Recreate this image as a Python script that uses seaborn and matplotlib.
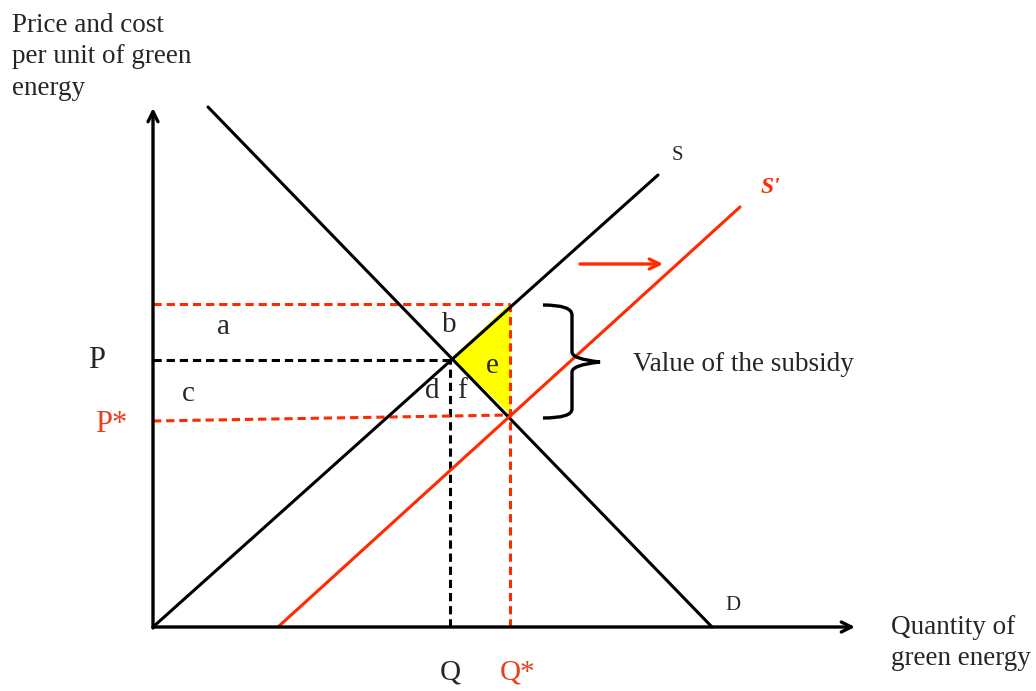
import matplotlib.pyplot as plt
import seaborn as sns
import numpy as np
from matplotlib.path import Path
from matplotlib.patches import PathPatch

sns.set_theme(style="white")
plt.rcParams['font.family'] = ['Liberation Serif', 'DejaVu Serif']

# quantity / price values (origin at bottom-left)
supply_q = [0, 505]
supply_p = [0, 452]
demand_q = [55, 559]
demand_p = [520, 0]
supply2_q = [125, 587]
supply2_p = [0, 420]

q_eq = 297          # Q
q_star = 357        # Q*
p_eq = 267          # P
p_star = [206, 212] # P* (line is drawn slightly tilted)
p_top = 323         # price received by producers
subsidy_tri_q = [300, 357, 357]
subsidy_tri_p = [269, 323, 214]

RED = '#FF2A00'
RED_TXT = '#E8401C'

fig = plt.figure(figsize=(10.36, 6.91), dpi=100)
ax = fig.add_axes([0, 0, 1, 1])
ax.set_xlim(-153, 883)
ax.set_ylim(-64, 627)
ax.axis('off')

# subsidy triangle
ax.fill(subsidy_tri_q, subsidy_tri_p, color='#FFFF00', zorder=1)

# dashed guides
dash = dict(lw=2.2, linestyle=(0, (2.7, 1.6)), zorder=2)
ax.plot([0, q_eq], [p_eq, p_eq], color='black', **dash)
ax.plot([q_eq, q_eq], [0, p_eq], color='black', **dash)
ax.plot([0, q_star], [p_top, p_top], color=RED, **dash)
ax.plot([0, q_star], p_star, color=RED, **dash)
ax.plot([q_star, q_star], [0, p_top], color=RED, **dash)

# supply and demand curves
sns.lineplot(x=supply_q, y=supply_p, color='black', lw=2.2, ax=ax, zorder=3)
sns.lineplot(x=demand_q, y=demand_p, color='black', lw=2.2, ax=ax, zorder=3)
sns.lineplot(x=supply2_q, y=supply2_p, color=RED, lw=2.2, ax=ax, zorder=3)

# axes with arrows
arrow = dict(arrowstyle='->', lw=2.4, color='black', mutation_scale=18,
             shrinkA=0, shrinkB=0)
ax.annotate('', xy=(702, 0), xytext=(0, 0), arrowprops=arrow, zorder=4)
ax.annotate('', xy=(0, 519), xytext=(0, -1), arrowprops=arrow, zorder=4)

# shift arrow
ax.annotate('', xy=(510, 363), xytext=(427, 363),
            arrowprops=dict(arrowstyle='->', lw=2.4, color=RED,
                            mutation_scale=18, shrinkA=0, shrinkB=0))

# curly bracket for the subsidy
verts = [(390, 322), (419, 322), (419, 312), (419, 302),
         (419, 275), (419, 268), (447, 265), (419, 262), (419, 255),
         (419, 228), (419, 218), (419, 209), (390, 209)]
codes = [Path.MOVETO, Path.CURVE3, Path.CURVE3, Path.LINETO,
         Path.LINETO, Path.CURVE3, Path.CURVE3, Path.CURVE3, Path.CURVE3,
         Path.LINETO, Path.LINETO, Path.CURVE3, Path.CURVE3]
ax.add_patch(PathPatch(Path(verts, codes), fill=False, lw=2.4,
                       edgecolor='black', zorder=4))

fs = 19.5
ax.text(-141, 614, 'Price and cost\nper unit of green\nenergy', fontsize=fs,
        va='top', ha='left', linespacing=1.33)
ax.text(738, -16, 'Quantity of\ngreen energy', fontsize=fs, va='center',
        ha='left', linespacing=1.33)
ax.text(480, 263, 'Value of the subsidy', fontsize=fs, va='center', ha='left')

ax.text(71, 300, 'a', fontsize=21, ha='center', va='center')
ax.text(296, 302, 'b', fontsize=21, ha='center', va='center')
ax.text(35, 233, 'c', fontsize=21, ha='center', va='center')
ax.text(279, 236, 'd', fontsize=21, ha='center', va='center')
ax.text(339, 261, 'e', fontsize=21, ha='center', va='center')
ax.text(309, 236, 'f', fontsize=21, ha='center', va='center')

ax.text(-56, 267, 'P', fontsize=22, ha='center', va='center')
ax.text(-42, 203, 'P*', fontsize=22, ha='center', va='center', color=RED_TXT)
ax.text(297, -45, 'Q', fontsize=21, ha='center', va='center')
ax.text(365, -45, 'Q*', fontsize=21, ha='center', va='center', color=RED_TXT)

ax.text(524, 472, 'S', fontsize=15, ha='center', va='center')
ax.text(617, 440, "S'", fontsize=17, ha='center', va='center', color=RED,
        fontweight='bold', fontstyle='italic')
ax.text(580, 22, 'D', fontsize=15, ha='center', va='center')

fig.savefig('out.png', dpi=100, facecolor='white')
